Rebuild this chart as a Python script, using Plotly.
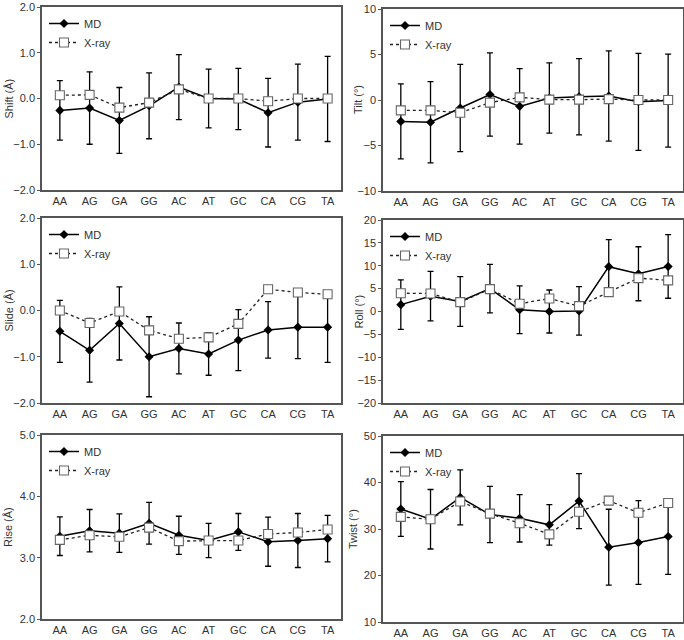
import plotly.graph_objects as go

categories = ["AA", "AG", "GA", "GG", "AC", "AT", "GC", "CA", "CG", "TA"]

shift_md = [-0.26, -0.21, -0.48, -0.16, 0.25, 0.00, -0.01, -0.31, -0.08, -0.01]
shift_md_err = [0.65, 0.79, 0.72, 0.72, 0.71, 0.64, 0.67, 0.75, 0.83, 0.93]
shift_xray = [0.07, 0.08, -0.20, -0.09, 0.20, 0.00, 0.00, -0.06, 0.00, 0.00]

tilt_md = [-2.35, -2.45, -0.88, 0.60, -0.70, 0.22, 0.35, 0.44, -0.20, -0.06]
tilt_md_err = [4.13, 4.47, 4.80, 4.58, 4.14, 3.86, 4.19, 4.96, 5.33, 5.11]
tilt_xray = [-1.14, -1.14, -1.40, -0.29, 0.29, 0.04, 0.04, 0.10, 0.00, 0.00]

slide_md = [-0.45, -0.86, -0.28, -1.00, -0.82, -0.94, -0.64, -0.42, -0.36, -0.36]
slide_md_err = [0.67, 0.69, 0.79, 0.865, 0.55, 0.46, 0.66, 0.61, 0.68, 0.76]
slide_xray = [0.00, -0.27, -0.02, -0.43, -0.61, -0.58, -0.29, 0.46, 0.39, 0.35]

roll_md = [1.5, 3.35, 2.2, 5.0, 0.38, 0.0, 0.12, 9.8, 8.25, 9.85]
roll_md_err = [5.4, 5.4, 5.44, 5.3, 5.2, 4.7, 5.3, 5.9, 5.9, 6.95]
roll_xray = [4.0, 3.94, 2.04, 4.9, 1.68, 2.85, 1.17, 4.23, 7.3, 6.8]

rise_md = [3.35, 3.44, 3.40, 3.56, 3.365, 3.28, 3.42, 3.26, 3.28, 3.31]
rise_md_err = [0.315, 0.345, 0.315, 0.34, 0.31, 0.28, 0.30, 0.40, 0.44, 0.38]
rise_xray = [3.29, 3.365, 3.34, 3.49, 3.27, 3.28, 3.28, 3.385, 3.41, 3.46]

twist_md = [34.3, 32.1, 36.8, 33.1, 32.3, 30.9, 36.0, 26.1, 27.1, 28.4]
twist_md_err = [5.9, 6.4, 5.9, 6.05, 5.1, 4.35, 5.9, 8.15, 9.0, 8.15]
twist_xray = [32.6, 32.1, 35.9, 33.3, 31.25, 28.85, 33.7, 36.1, 33.5, 35.6]

W, H = 684, 640
FONT = "Liberation Sans, Arial, sans-serif"
TXT = "#333333"
FRAME = "#555555"

panels = [
    # title, md, err, xray, tickvals, fmt, box x px (left,right), box y px (top,bottom), title x px
    ("Shift (Å)", shift_md, shift_md_err, shift_xray, [-2, -1, 0, 1, 2], ".1f", (42, 341), (7, 190), 8),
    ("Tilt (°)", tilt_md, tilt_md_err, tilt_xray, [-10, -5, 0, 5, 10], "d", (383, 683), (9, 191), 358),
    ("Slide (Å)", slide_md, slide_md_err, slide_xray, [-2, -1, 0, 1, 2], ".1f", (42, 341), (218, 403), 8),
    ("Roll (°)", roll_md, roll_md_err, roll_xray, [-20, -15, -10, -5, 0, 5, 10, 15, 20], "d", (383, 683), (220, 403), 358),
    ("Rise (Å)", rise_md, rise_md_err, rise_xray, [2, 3, 4, 5], ".1f", (42, 341), (435, 619), 8),
    ("Twist (°)", twist_md, twist_md_err, twist_xray, [10, 20, 30, 40, 50], "d", (383, 683), (436, 622), 353),
]

fig = go.Figure()
layout = dict(
    width=W, height=H,
    margin=dict(l=0, r=0, t=0, b=0, autoexpand=False),
    paper_bgcolor="white", plot_bgcolor="white",
    font=dict(family=FONT, size=11, color=TXT),
    showlegend=True,
)
annotations = []

for i, (title, md, err, xray, tv, fmt, (xl, xr), (yt, yb), tx) in enumerate(panels):
    n = i + 1
    xa = "x" if n == 1 else f"x{n}"
    ya = "y" if n == 1 else f"y{n}"
    lg = "legend" if n == 1 else f"legend{n}"
    fig.add_trace(go.Scatter(
        x=categories, y=md, xaxis=xa, yaxis=ya, name="MD", legend=lg,
        mode="lines+markers",
        line=dict(color="black", width=1.5),
        marker=dict(symbol="diamond", size=7, color="black"),
        error_y=dict(type="data", array=err, visible=True, color="black", thickness=1.3, width=3),
        cliponaxis=False,
    ))
    fig.add_trace(go.Scatter(
        x=categories, y=xray, xaxis=xa, yaxis=ya, name="X-ray", legend=lg,
        mode="lines+markers",
        line=dict(color="#222222", width=1.3, dash="dot"),
        marker=dict(symbol="square", size=9, color="white", line=dict(color="#666666", width=1.1)),
        cliponaxis=False,
    ))
    dx = [xl / W, xr / W]
    dy = [1 - yb / H, 1 - yt / H]
    left = xl < 200
    xrange = [-0.6, 9.45] if left else [-0.6, 9.5]
    layout["xaxis" if n == 1 else f"xaxis{n}"] = dict(
        domain=dx, anchor=ya, type="category", range=xrange, automargin=False,
        showline=True, mirror=True, linecolor=FRAME, linewidth=1.5,
        ticks="", ticklabeloverflow="allow",
        showgrid=False, zeroline=False, tickfont=dict(size=11, color=TXT),
    )
    layout["yaxis" if n == 1 else f"yaxis{n}"] = dict(
        domain=dy, anchor=xa, range=[tv[0], tv[-1]], automargin=False,
        tickmode="array", tickvals=tv, tickformat=fmt, ticklabeloverflow="allow",
        showline=True, mirror=True, linecolor=FRAME, linewidth=1.5,
        ticks="outside", ticklen=3, tickcolor=FRAME, tickwidth=1,
        showgrid=False, zeroline=False, tickfont=dict(size=11, color=TXT),
    )
    annotations.append(dict(
        text=title, textangle=-90, xref="paper", yref="paper",
        x=tx / W, y=(dy[0] + dy[1]) / 2, xanchor="center", yanchor="middle",
        showarrow=False, font=dict(size=11, color=TXT),
    ))
    layout[lg] = dict(
        x=dx[0] + 2 / W, y=dy[1] - 2 / H, xanchor="left", yanchor="top",
        bgcolor="rgba(0,0,0,0)", borderwidth=0,
        font=dict(size=11, color=TXT), itemwidth=30, tracegroupgap=0,
    )

layout["annotations"] = annotations
fig.update_layout(**layout)
fig.write_html(
    "out.html",
    config={"displayModeBar": False},
    post_script="document.body.style.margin='0px';document.body.style.overflow='hidden';",
)
